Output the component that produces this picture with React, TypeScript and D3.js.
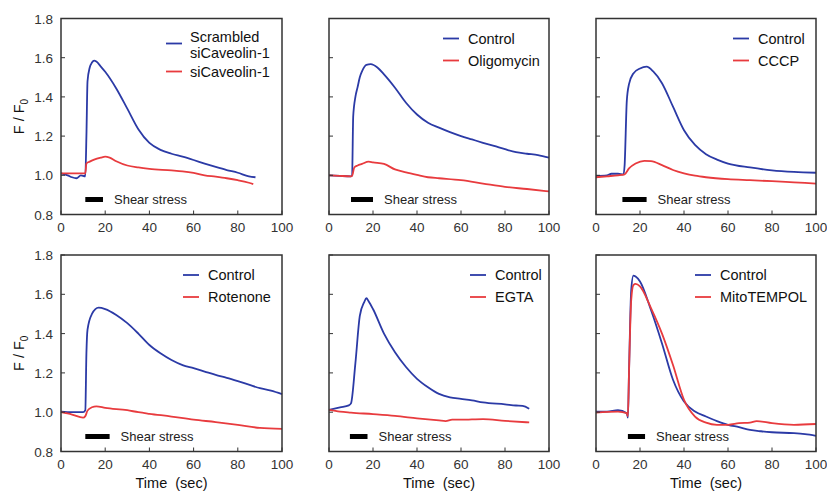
import React from "react";
import * as d3 from "d3";

type Pt = [number, number];

// time (sec), F/F0
const scrambledCav: Pt[] = [[0,1.01],[3,1.0],[5,0.99],[7,0.985],[9,1.0],[11,0.995],[11.5,1.2],[12,1.48],[13,1.55],[14,1.575],[15,1.585],[16,1.58],[18,1.555],[20,1.528],[25,1.443],[30,1.34],[35,1.235],[40,1.165],[45,1.13],[50,1.11],[55,1.095],[60,1.078],[65,1.06],[70,1.043],[75,1.027],[80,1.013],[85,0.995],[88,0.99]];
const siCav: Pt[] = [[0,1.01],[5,1.01],[11,1.01],[11.5,1.06],[13,1.07],[15,1.08],[18,1.09],[20,1.095],[22,1.09],[25,1.072],[30,1.05],[35,1.04],[40,1.033],[50,1.025],[55,1.02],[60,1.012],[65,1.0],[70,0.993],[75,0.985],[80,0.975],[85,0.962],[87,0.955]];

const oligoCtrl: Pt[] = [[0,1.0],[5,0.997],[10,0.995],[10.5,1.0],[11,1.3],[12,1.4],[13,1.45],[14,1.5],[15,1.53],[17,1.563],[19,1.567],[22,1.55],[25,1.515],[30,1.447],[35,1.37],[40,1.31],[45,1.268],[50,1.243],[55,1.22],[60,1.2],[65,1.183],[70,1.166],[75,1.15],[80,1.133],[85,1.118],[90,1.11],[95,1.103],[100,1.09]];
const oligo: Pt[] = [[0,1.0],[5,0.997],[10,0.995],[10.5,0.997],[11.5,1.04],[13,1.05],[15,1.058],[18,1.07],[20,1.066],[25,1.058],[30,1.03],[35,1.015],[40,1.002],[45,0.99],[50,0.985],[60,0.975],[70,0.958],[80,0.941],[90,0.93],[100,0.918]];

const cccpCtrl: Pt[] = [[0,0.997],[5,1.0],[7,1.008],[10,1.008],[12.5,1.005],[13,1.05],[14,1.38],[15,1.465],[17,1.52],[20,1.545],[23,1.554],[26,1.53],[30,1.47],[35,1.35],[40,1.23],[45,1.155],[50,1.108],[55,1.08],[60,1.06],[70,1.04],[80,1.025],[90,1.017],[100,1.013]];
const cccp: Pt[] = [[0,0.99],[5,0.995],[10,1.0],[13,1.005],[15,1.035],[18,1.06],[22,1.074],[25,1.072],[30,1.052],[35,1.027],[40,1.01],[45,0.998],[50,0.99],[60,0.98],[70,0.975],[80,0.97],[90,0.964],[100,0.958]];

const rotCtrl: Pt[] = [[0,1.003],[5,1.0],[10,1.0],[11,1.01],[11.5,1.3],[12,1.42],[14,1.5],[17,1.532],[20,1.525],[25,1.495],[30,1.453],[35,1.4],[40,1.342],[45,1.3],[50,1.266],[55,1.24],[60,1.224],[65,1.207],[70,1.19],[75,1.175],[80,1.158],[85,1.14],[90,1.122],[95,1.11],[100,1.092]];
const rot: Pt[] = [[0,1.0],[5,0.988],[10,0.972],[11,0.98],[12,1.008],[14,1.025],[16,1.03],[20,1.022],[30,1.01],[35,1.0],[40,0.992],[50,0.978],[60,0.962],[70,0.95],[80,0.936],[90,0.92],[100,0.915]];

const egtaCtrl: Pt[] = [[0,1.012],[5,1.025],[9,1.035],[10,1.045],[12,1.25],[14,1.49],[16,1.56],[17,1.58],[18,1.565],[20,1.525],[25,1.4],[30,1.305],[35,1.23],[40,1.17],[45,1.127],[50,1.093],[55,1.076],[60,1.068],[65,1.06],[70,1.05],[80,1.04],[85,1.034],[88,1.032],[91,1.018]];
const egta: Pt[] = [[0,1.012],[5,1.003],[10,0.998],[20,0.99],[30,0.981],[40,0.969],[50,0.958],[53,0.955],[56,0.962],[60,0.962],[70,0.965],[80,0.956],[91,0.948]];

const mitoCtrl: Pt[] = [[0,1.003],[5,1.003],[10,1.01],[14,0.995],[14.5,0.972],[15,1.2],[16,1.62],[17,1.695],[18,1.69],[20,1.665],[25,1.52],[30,1.35],[35,1.165],[40,1.054],[45,1.003],[50,0.978],[55,0.955],[60,0.936],[65,0.924],[70,0.91],[75,0.903],[80,0.898],[90,0.893],[95,0.888],[100,0.88]];
const mito: Pt[] = [[0,0.998],[10,1.003],[14,0.995],[14.5,0.98],[15,1.2],[16,1.57],[17,1.647],[18,1.653],[20,1.64],[25,1.53],[30,1.4],[35,1.24],[40,1.063],[45,0.978],[50,0.947],[55,0.936],[60,0.936],[65,0.944],[70,0.947],[73,0.955],[80,0.944],[90,0.936],[100,0.94]];

const blueNames = [["Scrambled", "siCaveolin-1"], ["Control"], ["Control"], ["Control"], ["Control"], ["Control"]];
const redNames = ["siCaveolin-1", "Oligomycin", "CCCP", "Rotenone", "EGTA", "MitoTEMPOL"];
const blueSeries = [scrambledCav, oligoCtrl, cccpCtrl, rotCtrl, egtaCtrl, mitoCtrl];
const redSeries = [siCav, oligo, cccp, rot, egta, mito];
const shearBars: Pt[] = [[11, 19], [10, 20], [12, 23], [11, 22], [9.5, 17.5], [14.5, 22.3]];

const xTicks = [0, 20, 40, 60, 80, 100];
const yTicks = [0.8, 1.0, 1.2, 1.4, 1.6, 1.8];

// panel frames in page pixels
const cols = [[61, 282], [329, 549], [596, 816]];
const rows = [[18.5, 214.5], [255, 451.5]];
const legendX = [166, 443, 733, 183, 470, 695];

const BLUE = "#2b3aa6";
const RED = "#e83b3e";
const INK = "#333";
const FONT = "'Liberation Sans', Arial, sans-serif";

function Panel({ i }: { i: number }) {
  const col = i % 3;
  const row = Math.floor(i / 3);
  const [x0, x1] = cols[col];
  const [y0, y1] = rows[row];
  const x = d3.scaleLinear().domain([0, 100]).range([x0, x1]);
  const y = d3.scaleLinear().domain([0.8, 1.8]).range([y1, y0]);
  const line = d3
    .line<Pt>()
    .x((d) => x(d[0]))
    .y((d) => y(d[1]))
    .curve(d3.curveMonotoneX);

  const lx = legendX[i];
  const names = blueNames[i];
  const blueY = names.length === 2 ? y0 + 25 : y0 + 20;
  const redY = names.length === 2 ? y0 + 53 : y0 + 42;
  const bar = shearBars[i];
  const barY = y1 - 15;

  return (
    <g>
      <path d={line(blueSeries[i]) || ""} fill="none" stroke={BLUE} strokeWidth={1.8} />
      <path d={line(redSeries[i]) || ""} fill="none" stroke={RED} strokeWidth={1.8} />

      {xTicks.map((t) => (
        <g key={"x" + t}>
          <line x1={x(t)} x2={x(t)} y1={y1} y2={y1 - 4} stroke={INK} strokeWidth={1} />
          <text x={x(t)} y={y1 + 17} textAnchor="middle" fontSize={13.5} fill={INK}>
            {t}
          </text>
        </g>
      ))}
      {yTicks.map((t) => (
        <g key={"y" + t}>
          <line x1={x0} x2={x0 + 4} y1={y(t)} y2={y(t)} stroke={INK} strokeWidth={1} />
          {col === 0 && (
            <text x={x0 - 8} y={y(t) + 5} textAnchor="end" fontSize={13.5} fill={INK}>
              {t.toFixed(1)}
            </text>
          )}
        </g>
      ))}
      <rect x={x0} y={y0} width={x1 - x0} height={y1 - y0} fill="none" stroke={INK} strokeWidth={1.5} />

      {/* legend */}
      <line x1={lx} x2={lx + 16} y1={blueY} y2={blueY} stroke={BLUE} strokeWidth={1.8} />
      {names.length === 2 ? (
        <text x={lx + 24} fontSize={14.5} fill="#111">
          <tspan x={lx + 24} y={y0 + 23}>{names[0]}</tspan>
          <tspan x={lx + 24} y={y0 + 39}>{names[1]}</tspan>
        </text>
      ) : (
        <text x={lx + 25} y={blueY + 5} fontSize={14.5} fill="#111">
          {names[0]}
        </text>
      )}
      <line x1={lx} x2={lx + 16} y1={redY} y2={redY} stroke={RED} strokeWidth={1.8} />
      <text x={lx + (names.length === 2 ? 24 : 25)} y={redY + 5} fontSize={14.5} fill="#111">
        {redNames[i]}
      </text>

      {/* shear stress bar */}
      <rect x={x(bar[0])} y={barY - 2.5} width={x(bar[1]) - x(bar[0])} height={5} fill="#000" />
      <text x={x(bar[1]) + 11} y={barY + 4.5} fontSize={13} fill="#222">
        Shear stress
      </text>

      {col === 0 && (
        <text
          transform={`translate(${x0 - 37},${(y0 + y1) / 2}) rotate(-90)`}
          textAnchor="middle"
          fontSize={14.5}
          fill="#111"
        >
          F / F<tspan fontSize={10} dy={4}>0</tspan>
        </text>
      )}
      {row === 1 && (
        <text x={(x0 + x1) / 2} y={488} textAnchor="middle" fontSize={14.5} fill="#111" style={{ whiteSpace: "pre" }}>
          {"Time  (sec)"}
        </text>
      )}
    </g>
  );
}

export default function App() {
  return (
    <svg
      width={827}
      height={491}
      style={{ position: "absolute", left: 0, top: 0, background: "#fff", fontFamily: FONT }}
    >
      {[0, 1, 2, 3, 4, 5].map((i) => (
        <Panel key={i} i={i} />
      ))}
    </svg>
  );
}
